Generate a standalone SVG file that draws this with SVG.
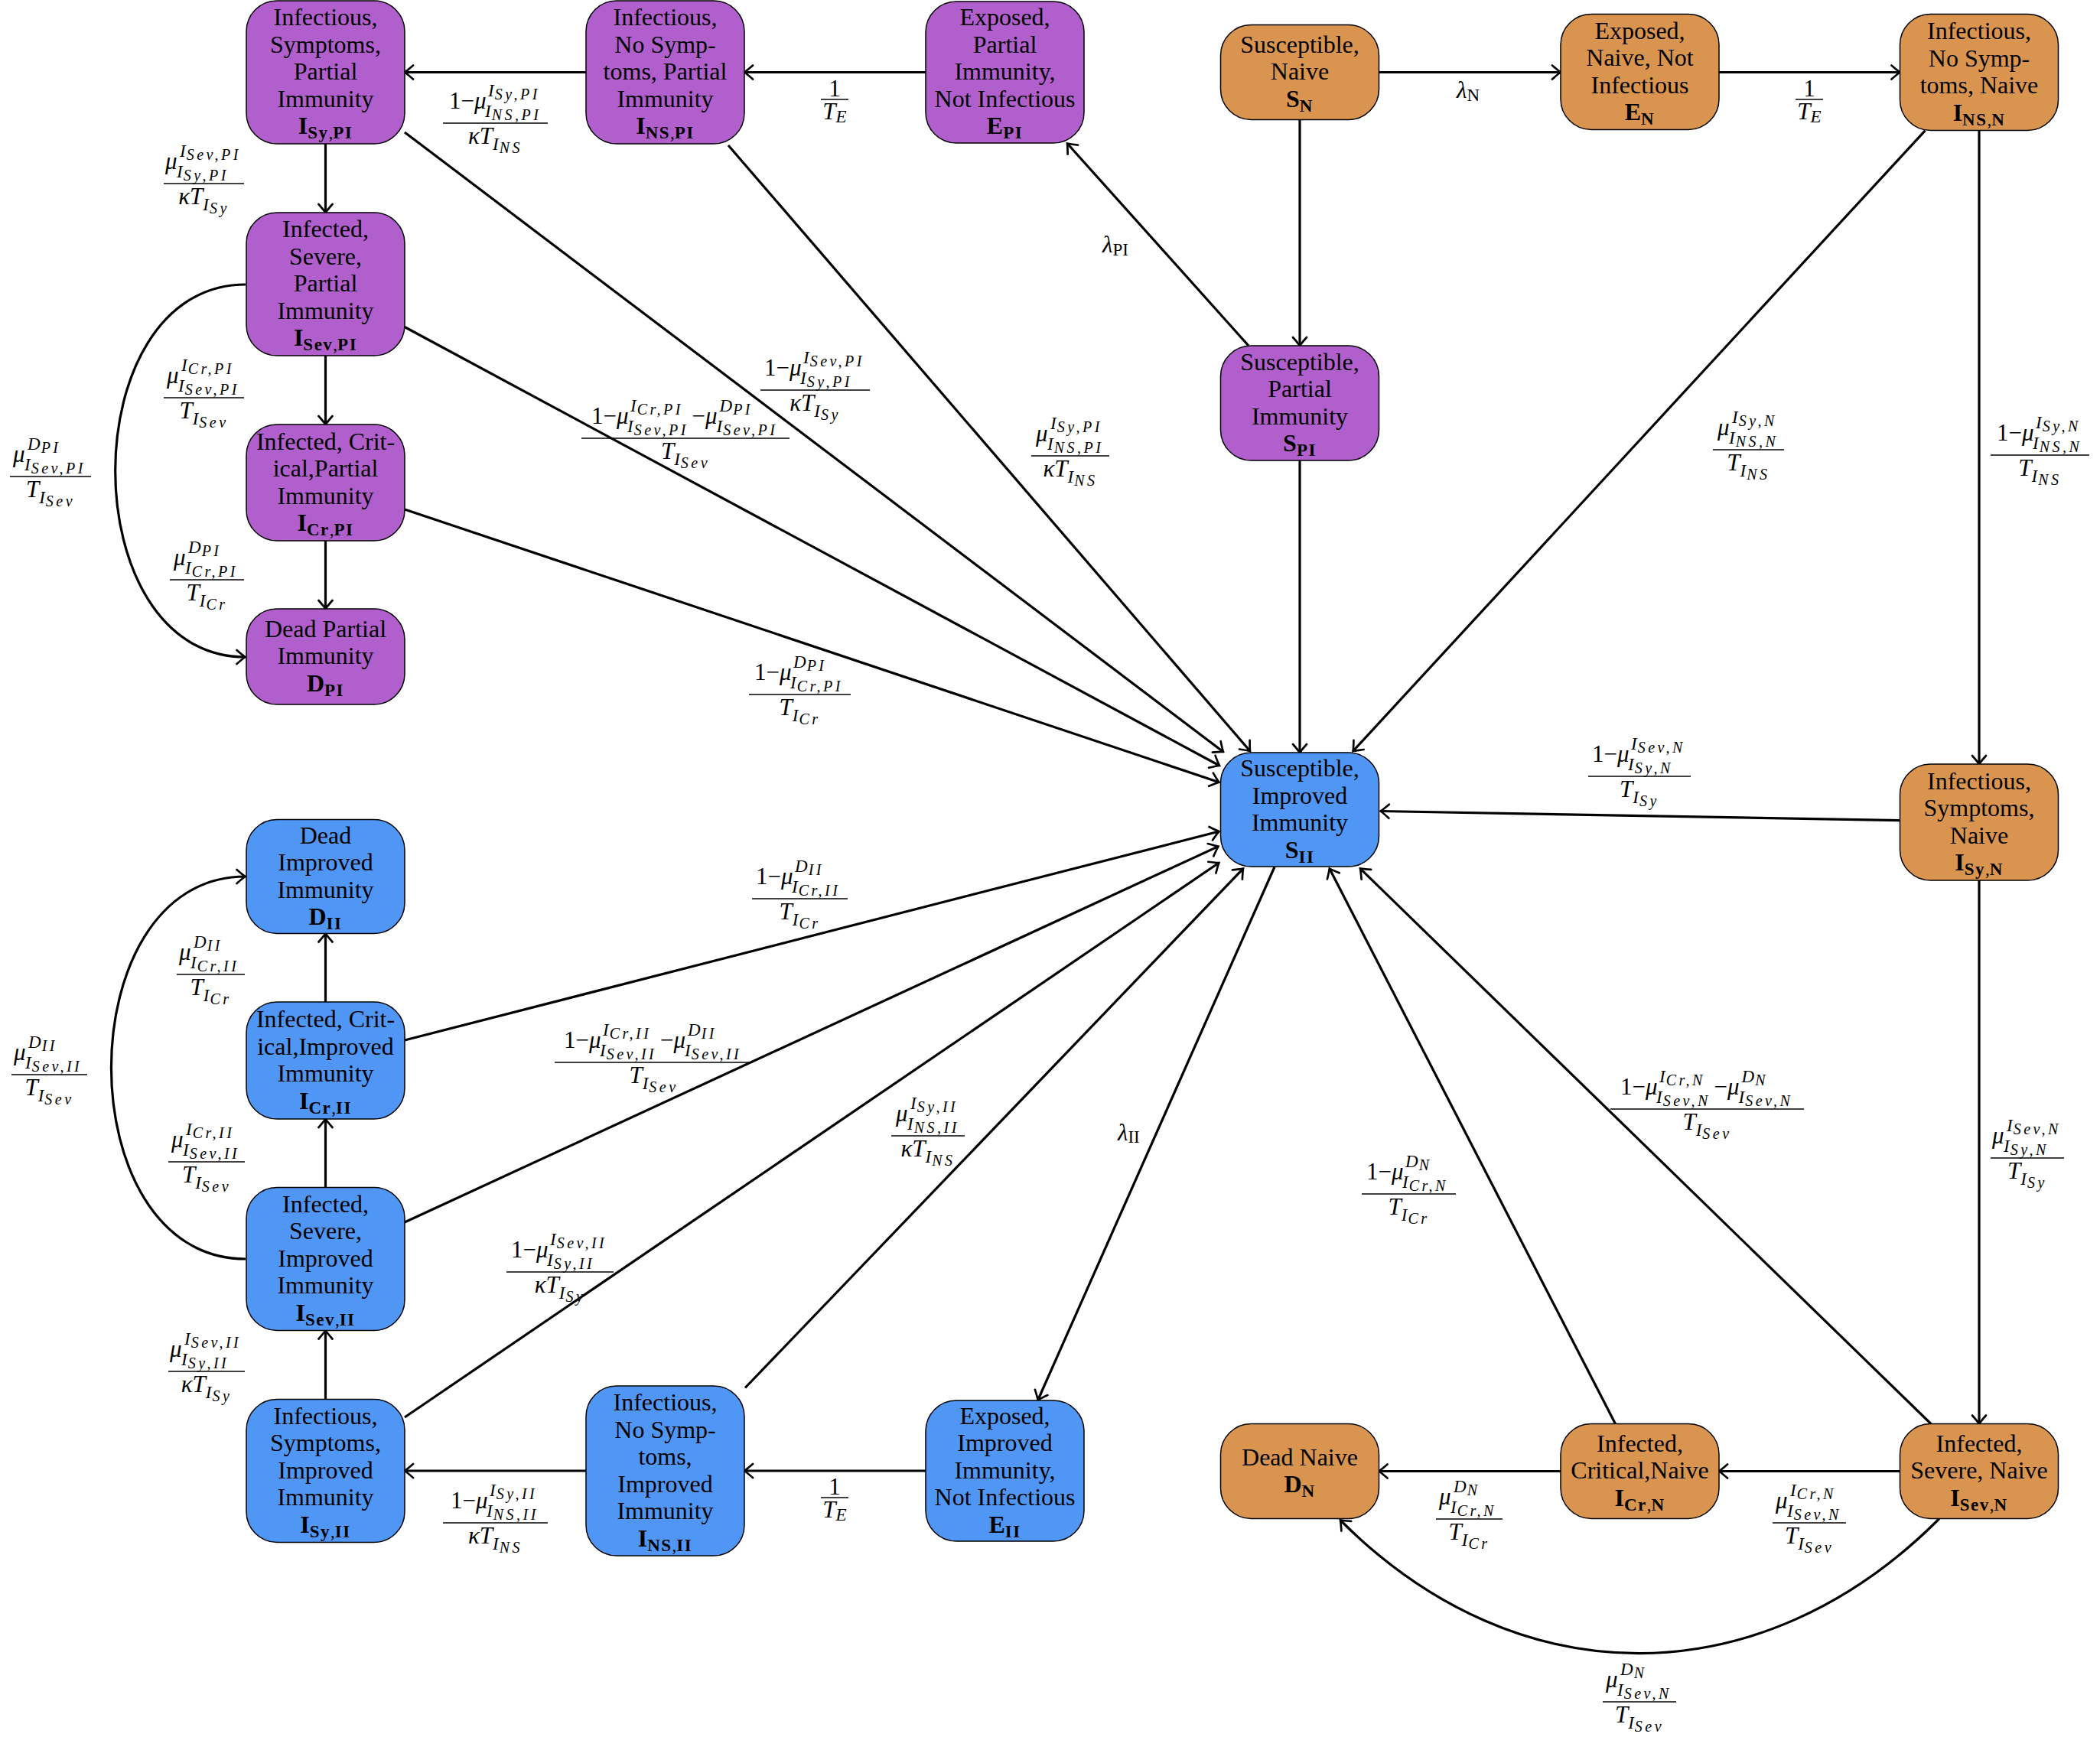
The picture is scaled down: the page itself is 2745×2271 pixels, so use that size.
<svg xmlns="http://www.w3.org/2000/svg" width="2745" height="2271" viewBox="0 0 2745 2271">
<defs>
<style>
.nd{stroke:#000;stroke-width:1.5}
.pu{fill:#B05FCC}
.or{fill:#D9944F}
.bl{fill:#5096F4}
.nt{font-family:"Liberation Serif",serif;font-size:32px;text-anchor:middle;fill:#000}
.b{font-weight:bold}
.bs{font-weight:bold;font-size:23px;letter-spacing:1.5px}
.cm{font-weight:normal;font-size:23px}
.e{fill:none;stroke:#000;stroke-width:3.2}
.fl{stroke:#000;stroke-width:1.5}
.mi{font-family:"Liberation Serif",serif;font-style:italic;font-size:31px}
.mr{font-family:"Liberation Serif",serif;font-size:31px}
.s{font-family:"Liberation Serif",serif;font-style:italic;font-size:23px}
.ss{font-style:italic;font-size:20px;letter-spacing:3.5px}
.sr{font-style:normal;font-size:23px}
.c{text-anchor:middle}
</style>
<marker id="ah" viewBox="-14 -12 16 24" markerWidth="16" markerHeight="24" refX="0" refY="0" orient="auto" markerUnits="userSpaceOnUse">
<path d="M-11,-9 Q-3,-2 0,0 Q-3,2 -11,9" fill="none" stroke="#000" stroke-width="2.7" stroke-linecap="round"/>
</marker>
</defs>
<rect width="2745" height="2271" fill="#fff"/>

<g id="connectors" class="e" marker-end="url(#ah)">
<path d="M766 94.5 L529 94.5"/>
<path d="M1210 94.5 L973 94.5"/>
<path d="M1802.5 94.5 L2040 94.5"/>
<path d="M2247 94.5 L2483.5 94.5"/>
<path d="M425.5 188 L425.5 278"/>
<path d="M425.5 465 L425.5 555"/>
<path d="M425.5 707 L425.5 796"/>
<path d="M1699 156.5 L1699 452"/>
<path d="M1699 602 L1699 984"/>
<path d="M2587 170.5 L2587 999"/>
<path d="M2587 1151 L2587 1861.5"/>
<path d="M425.5 1310 L425.5 1220.5"/>
<path d="M425.5 1552.5 L425.5 1463"/>
<path d="M425.5 1829.5 L425.5 1739.5"/>
<path d="M766 1923 L529 1923"/>
<path d="M1210 1923 L973 1923"/>
<path d="M2040 1923.5 L1802.5 1923.5"/>
<path d="M2483.5 1923.5 L2247 1923.5"/>
<path d="M529 173 L1599 983"/>
<path d="M952 190 L1634 982"/>
<path d="M529 427.5 L1594 1001"/>
<path d="M529 666 L1593.4 1022.7"/>
<path d="M2516.5 170.6 L1768.6 982"/>
<path d="M2483.5 1072.6 L1804.6 1060.5"/>
<path d="M529 1360 L1593.4 1087"/>
<path d="M529 1598 L1592.5 1106.6"/>
<path d="M529 1853 L1593.4 1128"/>
<path d="M974 1814.5 L1625 1135.6"/>
<path d="M2111.5 1861.5 L1737.8 1135.6"/>
<path d="M2524 1861.5 L1778 1135.6"/>
<path d="M1666 1133.5 L1356.7 1830.5"/>
<path d="M1632 452 L1395 187.5"/>
<path d="M321 372 C94 372 94 859 320.5 859"/>
<path d="M321 1646 C87 1646 87 1146 320.5 1146"/>
<path d="M2535 1985.5 C2302 2219 1985 2221 1752 1987.5"/>
</g>

<g id="nodes">
<g id="I_Sy_PI"><rect class="nd pu" x="322" y="1" width="207" height="187" rx="40"/>
<text class="nt"><tspan x="425.5" y="33.25">Infectious,</tspan><tspan x="425.5" y="68.75">Symptoms,</tspan><tspan x="425.5" y="104.25">Partial</tspan><tspan x="425.5" y="139.75">Immunity</tspan><tspan x="425.5" y="175.25" class="b">I<tspan class="bs" dy="6">Sy</tspan><tspan class="cm">,</tspan><tspan class="bs">PI</tspan></tspan></text></g>
<g id="I_NS_PI"><rect class="nd pu" x="766" y="1" width="207" height="187" rx="40"/>
<text class="nt"><tspan x="869.5" y="33.25">Infectious,</tspan><tspan x="869.5" y="68.75">No Symp-</tspan><tspan x="869.5" y="104.25">toms, Partial</tspan><tspan x="869.5" y="139.75">Immunity</tspan><tspan x="869.5" y="175.25" class="b">I<tspan class="bs" dy="6">NS</tspan><tspan class="cm">,</tspan><tspan class="bs">PI</tspan></tspan></text></g>
<g id="E_PI"><rect class="nd pu" x="1210" y="2" width="207" height="185" rx="40"/>
<text class="nt"><tspan x="1313.5" y="33.25">Exposed,</tspan><tspan x="1313.5" y="68.75">Partial</tspan><tspan x="1313.5" y="104.25">Immunity,</tspan><tspan x="1313.5" y="139.75">Not Infectious</tspan><tspan x="1313.5" y="175.25" class="b">E<tspan class="bs" dy="6">PI</tspan></tspan></text></g>
<g id="S_N"><rect class="nd or" x="1595.5" y="32.5" width="207" height="124" rx="40"/>
<text class="nt"><tspan x="1699" y="68.75">Susceptible,</tspan><tspan x="1699" y="104.25">Naive</tspan><tspan x="1699" y="139.75" class="b">S<tspan class="bs" dy="6">N</tspan></tspan></text></g>
<g id="E_N"><rect class="nd or" x="2040" y="18.5" width="207" height="151" rx="40"/>
<text class="nt"><tspan x="2143.5" y="50.5">Exposed,</tspan><tspan x="2143.5" y="86">Naive, Not</tspan><tspan x="2143.5" y="121.5">Infectious</tspan><tspan x="2143.5" y="157" class="b">E<tspan class="bs" dy="6">N</tspan></tspan></text></g>
<g id="I_NS_N"><rect class="nd or" x="2483.5" y="18.5" width="207" height="152" rx="40"/>
<text class="nt"><tspan x="2587" y="51">Infectious,</tspan><tspan x="2587" y="86.5">No Symp-</tspan><tspan x="2587" y="122">toms, Naive</tspan><tspan x="2587" y="157.5" class="b">I<tspan class="bs" dy="6">NS</tspan><tspan class="cm">,</tspan><tspan class="bs">N</tspan></tspan></text></g>
<g id="I_Sev_PI"><rect class="nd pu" x="322" y="278" width="207" height="187" rx="40"/>
<text class="nt"><tspan x="425.5" y="310.25">Infected,</tspan><tspan x="425.5" y="345.75">Severe,</tspan><tspan x="425.5" y="381.25">Partial</tspan><tspan x="425.5" y="416.75">Immunity</tspan><tspan x="425.5" y="452.25" class="b">I<tspan class="bs" dy="6">Sev</tspan><tspan class="cm">,</tspan><tspan class="bs">PI</tspan></tspan></text></g>
<g id="S_PI"><rect class="nd pu" x="1595.5" y="452" width="207" height="150" rx="40"/>
<text class="nt"><tspan x="1699" y="483.5">Susceptible,</tspan><tspan x="1699" y="519">Partial</tspan><tspan x="1699" y="554.5">Immunity</tspan><tspan x="1699" y="590" class="b">S<tspan class="bs" dy="6">PI</tspan></tspan></text></g>
<g id="I_Cr_PI"><rect class="nd pu" x="322" y="555" width="207" height="152" rx="40"/>
<text class="nt"><tspan x="425.5" y="587.5">Infected, Crit-</tspan><tspan x="425.5" y="623">ical,Partial</tspan><tspan x="425.5" y="658.5">Immunity</tspan><tspan x="425.5" y="694" class="b">I<tspan class="bs" dy="6">Cr</tspan><tspan class="cm">,</tspan><tspan class="bs">PI</tspan></tspan></text></g>
<g id="D_PI"><rect class="nd pu" x="322" y="796" width="207" height="125" rx="40"/>
<text class="nt"><tspan x="425.5" y="832.75">Dead Partial</tspan><tspan x="425.5" y="868.25">Immunity</tspan><tspan x="425.5" y="903.75" class="b">D<tspan class="bs" dy="6">PI</tspan></tspan></text></g>
<g id="S_II"><rect class="nd bl" x="1595.5" y="984" width="207" height="149" rx="40"/>
<text class="nt"><tspan x="1699" y="1015">Susceptible,</tspan><tspan x="1699" y="1050.5">Improved</tspan><tspan x="1699" y="1086">Immunity</tspan><tspan x="1699" y="1121.5" class="b">S<tspan class="bs" dy="6">II</tspan></tspan></text></g>
<g id="I_Sy_N"><rect class="nd or" x="2483.5" y="999" width="207" height="152" rx="40"/>
<text class="nt"><tspan x="2587" y="1031.5">Infectious,</tspan><tspan x="2587" y="1067">Symptoms,</tspan><tspan x="2587" y="1102.5">Naive</tspan><tspan x="2587" y="1138" class="b">I<tspan class="bs" dy="6">Sy</tspan><tspan class="cm">,</tspan><tspan class="bs">N</tspan></tspan></text></g>
<g id="D_II"><rect class="nd bl" x="322" y="1071.5" width="207" height="149" rx="40"/>
<text class="nt"><tspan x="425.5" y="1102.5">Dead</tspan><tspan x="425.5" y="1138">Improved</tspan><tspan x="425.5" y="1173.5">Immunity</tspan><tspan x="425.5" y="1209" class="b">D<tspan class="bs" dy="6">II</tspan></tspan></text></g>
<g id="I_Cr_II"><rect class="nd bl" x="322" y="1310" width="207" height="153" rx="40"/>
<text class="nt"><tspan x="425.5" y="1343">Infected, Crit-</tspan><tspan x="425.5" y="1378.5">ical,Improved</tspan><tspan x="425.5" y="1414">Immunity</tspan><tspan x="425.5" y="1449.5" class="b">I<tspan class="bs" dy="6">Cr</tspan><tspan class="cm">,</tspan><tspan class="bs">II</tspan></tspan></text></g>
<g id="I_Sev_II"><rect class="nd bl" x="322" y="1552.5" width="207" height="187" rx="40"/>
<text class="nt"><tspan x="425.5" y="1584.75">Infected,</tspan><tspan x="425.5" y="1620.25">Severe,</tspan><tspan x="425.5" y="1655.75">Improved</tspan><tspan x="425.5" y="1691.25">Immunity</tspan><tspan x="425.5" y="1726.75" class="b">I<tspan class="bs" dy="6">Sev</tspan><tspan class="cm">,</tspan><tspan class="bs">II</tspan></tspan></text></g>
<g id="I_Sy_II"><rect class="nd bl" x="322" y="1829.5" width="207" height="187" rx="40"/>
<text class="nt"><tspan x="425.5" y="1861.75">Infectious,</tspan><tspan x="425.5" y="1897.25">Symptoms,</tspan><tspan x="425.5" y="1932.75">Improved</tspan><tspan x="425.5" y="1968.25">Immunity</tspan><tspan x="425.5" y="2003.75" class="b">I<tspan class="bs" dy="6">Sy</tspan><tspan class="cm">,</tspan><tspan class="bs">II</tspan></tspan></text></g>
<g id="I_NS_II"><rect class="nd bl" x="766" y="1812" width="207" height="222" rx="40"/>
<text class="nt"><tspan x="869.5" y="1844">Infectious,</tspan><tspan x="869.5" y="1879.5">No Symp-</tspan><tspan x="869.5" y="1915">toms,</tspan><tspan x="869.5" y="1950.5">Improved</tspan><tspan x="869.5" y="1986">Immunity</tspan><tspan x="869.5" y="2021.5" class="b">I<tspan class="bs" dy="6">NS</tspan><tspan class="cm">,</tspan><tspan class="bs">II</tspan></tspan></text></g>
<g id="E_II"><rect class="nd bl" x="1210" y="1831" width="207" height="184" rx="40"/>
<text class="nt"><tspan x="1313.5" y="1861.75">Exposed,</tspan><tspan x="1313.5" y="1897.25">Improved</tspan><tspan x="1313.5" y="1932.75">Immunity,</tspan><tspan x="1313.5" y="1968.25">Not Infectious</tspan><tspan x="1313.5" y="2003.75" class="b">E<tspan class="bs" dy="6">II</tspan></tspan></text></g>
<g id="D_N"><rect class="nd or" x="1595.5" y="1861.5" width="207" height="124" rx="40"/>
<text class="nt"><tspan x="1699" y="1915.5">Dead Naive</tspan><tspan x="1699" y="1951" class="b">D<tspan class="bs" dy="6">N</tspan></tspan></text></g>
<g id="I_Cr_N"><rect class="nd or" x="2040" y="1861.5" width="207" height="124" rx="40"/>
<text class="nt"><tspan x="2143.5" y="1897.75">Infected,</tspan><tspan x="2143.5" y="1933.25">Critical,Naive</tspan><tspan x="2143.5" y="1968.75" class="b">I<tspan class="bs" dy="6">Cr</tspan><tspan class="cm">,</tspan><tspan class="bs">N</tspan></tspan></text></g>
<g id="I_Sev_N"><rect class="nd or" x="2483.5" y="1861.5" width="207" height="124" rx="40"/>
<text class="nt"><tspan x="2587" y="1897.75">Infected,</tspan><tspan x="2587" y="1933.25">Severe, Naive</tspan><tspan x="2587" y="1968.75" class="b">I<tspan class="bs" dy="6">Sev</tspan><tspan class="cm">,</tspan><tspan class="bs">N</tspan></tspan></text></g>
</g>

<g id="labels">
<!-- L1 -->
<text class="mr" x="587" y="142">1−<tspan class="mi">μ</tspan></text>
<text class="s" x="638" y="126">I<tspan class="ss" dx="1" dy="4">Sy,PI</tspan></text>
<text class="s" x="634" y="153">I<tspan class="ss" dx="1" dy="4">NS,PI</tspan></text>
<line class="fl" x1="579" y1="161" x2="716" y2="161"/>
<text class="mi c" x="647.5" y="188">κT<tspan class="s" dy="8">I</tspan><tspan class="ss" dx="1" dy="4">NS</tspan></text>
<!-- L2 -->
<text class="mr c" x="1091" y="126">1</text>
<line class="fl" x1="1073" y1="130" x2="1109" y2="130"/>
<text class="mi c" x="1091" y="156">T<tspan class="s" dy="4">E</tspan></text>
<!-- L3 -->
<text class="mi" x="1904" y="128">λ<tspan class="sr" dy="4">N</tspan></text>
<!-- L4 -->
<text class="mr c" x="2365" y="126">1</text>
<line class="fl" x1="2347" y1="130" x2="2383" y2="130"/>
<text class="mi c" x="2365" y="156">T<tspan class="s" dy="4">E</tspan></text>
<!-- L5 -->
<text class="mi" x="216" y="221">μ</text>
<text class="s" x="235" y="205">I<tspan class="ss" dx="1" dy="4">Sev,PI</tspan></text>
<text class="s" x="231" y="232">I<tspan class="ss" dx="1" dy="4">Sy,PI</tspan></text>
<line class="fl" x1="214" y1="240" x2="319" y2="240"/>
<text class="mi c" x="266.5" y="267">κT<tspan class="s" dy="8">I</tspan><tspan class="ss" dx="1" dy="4">Sy</tspan></text>
<!-- L6 -->
<text class="mi" x="218" y="501">μ</text>
<text class="s" x="237" y="485">I<tspan class="ss" dx="1" dy="4">Cr,PI</tspan></text>
<text class="s" x="233" y="512">I<tspan class="ss" dx="1" dy="4">Sev,PI</tspan></text>
<line class="fl" x1="214" y1="520" x2="319" y2="520"/>
<text class="mi c" x="266.5" y="547">T<tspan class="s" dy="8">I</tspan><tspan class="ss" dx="1" dy="4">Sev</tspan></text>
<!-- L7 -->
<text class="mi" x="17" y="604">μ</text>
<text class="s" x="36" y="588">D<tspan class="ss" dx="1" dy="4">PI</tspan></text>
<text class="s" x="32" y="615">I<tspan class="ss" dx="1" dy="4">Sev,PI</tspan></text>
<line class="fl" x1="13" y1="623" x2="119" y2="623"/>
<text class="mi c" x="66" y="650">T<tspan class="s" dy="8">I</tspan><tspan class="ss" dx="1" dy="4">Sev</tspan></text>
<!-- L8 -->
<text class="mi" x="227" y="739">μ</text>
<text class="s" x="246" y="723">D<tspan class="ss" dx="1" dy="4">PI</tspan></text>
<text class="s" x="242" y="750">I<tspan class="ss" dx="1" dy="4">Cr,PI</tspan></text>
<line class="fl" x1="222" y1="758" x2="319" y2="758"/>
<text class="mi c" x="270.5" y="785">T<tspan class="s" dy="8">I</tspan><tspan class="ss" dx="1" dy="4">Cr</tspan></text>
<!-- L9 -->
<text class="mi" x="1441" y="330">λ<tspan class="sr" dy="4">PI</tspan></text>
<!-- L10 -->
<text class="mr" x="999" y="491">1−<tspan class="mi">μ</tspan></text>
<text class="s" x="1050" y="475">I<tspan class="ss" dx="1" dy="4">Sev,PI</tspan></text>
<text class="s" x="1046" y="502">I<tspan class="ss" dx="1" dy="4">Sy,PI</tspan></text>
<line class="fl" x1="994" y1="510" x2="1137" y2="510"/>
<text class="mi c" x="1065.5" y="537">κT<tspan class="s" dy="8">I</tspan><tspan class="ss" dx="1" dy="4">Sy</tspan></text>
<!-- L11 -->
<text class="mr" x="773" y="554">1−<tspan class="mi">μ</tspan></text>
<text class="s" x="824" y="538">I<tspan class="ss" dx="1" dy="4">Cr,PI</tspan></text>
<text class="s" x="820" y="565">I<tspan class="ss" dx="1" dy="4">Sev,PI</tspan></text>
<text class="mr" x="904.5" y="554">−<tspan class="mi">μ</tspan></text>
<text class="s" x="940.5" y="538">D<tspan class="ss" dx="1" dy="4">PI</tspan></text>
<text class="s" x="936.5" y="565">I<tspan class="ss" dx="1" dy="4">Sev,PI</tspan></text>
<line class="fl" x1="760" y1="573" x2="1032" y2="573"/>
<text class="mi c" x="896" y="600">T<tspan class="s" dy="8">I</tspan><tspan class="ss" dx="1" dy="4">Sev</tspan></text>
<!-- L12 -->
<text class="mi" x="1354" y="577">μ</text>
<text class="s" x="1373" y="561">I<tspan class="ss" dx="1" dy="4">Sy,PI</tspan></text>
<text class="s" x="1369" y="588">I<tspan class="ss" dx="1" dy="4">NS,PI</tspan></text>
<line class="fl" x1="1348" y1="596" x2="1450" y2="596"/>
<text class="mi c" x="1399" y="623">κT<tspan class="s" dy="8">I</tspan><tspan class="ss" dx="1" dy="4">NS</tspan></text>
<!-- L13 -->
<text class="mi" x="2245" y="569">μ</text>
<text class="s" x="2264" y="553">I<tspan class="ss" dx="1" dy="4">Sy,N</tspan></text>
<text class="s" x="2260" y="580">I<tspan class="ss" dx="1" dy="4">NS,N</tspan></text>
<line class="fl" x1="2239" y1="588" x2="2332" y2="588"/>
<text class="mi c" x="2285.5" y="615">T<tspan class="s" dy="8">I</tspan><tspan class="ss" dx="1" dy="4">NS</tspan></text>
<!-- L14 -->
<text class="mr" x="2610" y="576">1−<tspan class="mi">μ</tspan></text>
<text class="s" x="2661" y="560">I<tspan class="ss" dx="1" dy="4">Sy,N</tspan></text>
<text class="s" x="2657" y="587">I<tspan class="ss" dx="1" dy="4">NS,N</tspan></text>
<line class="fl" x1="2602" y1="595" x2="2731" y2="595"/>
<text class="mi c" x="2666.5" y="622">T<tspan class="s" dy="8">I</tspan><tspan class="ss" dx="1" dy="4">NS</tspan></text>
<!-- L15 -->
<text class="mr" x="986" y="889">1−<tspan class="mi">μ</tspan></text>
<text class="s" x="1037" y="873">D<tspan class="ss" dx="1" dy="4">PI</tspan></text>
<text class="s" x="1033" y="900">I<tspan class="ss" dx="1" dy="4">Cr,PI</tspan></text>
<line class="fl" x1="979" y1="908" x2="1112" y2="908"/>
<text class="mi c" x="1045.5" y="935">T<tspan class="s" dy="8">I</tspan><tspan class="ss" dx="1" dy="4">Cr</tspan></text>
<!-- L16 -->
<text class="mr" x="2081" y="996">1−<tspan class="mi">μ</tspan></text>
<text class="s" x="2132" y="980">I<tspan class="ss" dx="1" dy="4">Sev,N</tspan></text>
<text class="s" x="2128" y="1007">I<tspan class="ss" dx="1" dy="4">Sy,N</tspan></text>
<line class="fl" x1="2076" y1="1015" x2="2210" y2="1015"/>
<text class="mi c" x="2143" y="1042">T<tspan class="s" dy="8">I</tspan><tspan class="ss" dx="1" dy="4">Sy</tspan></text>
<!-- L17 -->
<text class="mi" x="234" y="1255">μ</text>
<text class="s" x="253" y="1239">D<tspan class="ss" dx="1" dy="4">II</tspan></text>
<text class="s" x="249" y="1266">I<tspan class="ss" dx="1" dy="4">Cr,II</tspan></text>
<line class="fl" x1="231" y1="1274" x2="320" y2="1274"/>
<text class="mi c" x="275.5" y="1301">T<tspan class="s" dy="8">I</tspan><tspan class="ss" dx="1" dy="4">Cr</tspan></text>
<!-- L18 -->
<text class="mr" x="988" y="1156">1−<tspan class="mi">μ</tspan></text>
<text class="s" x="1039" y="1140">D<tspan class="ss" dx="1" dy="4">II</tspan></text>
<text class="s" x="1035" y="1167">I<tspan class="ss" dx="1" dy="4">Cr,II</tspan></text>
<line class="fl" x1="983" y1="1175" x2="1108" y2="1175"/>
<text class="mi c" x="1045.5" y="1202">T<tspan class="s" dy="8">I</tspan><tspan class="ss" dx="1" dy="4">Cr</tspan></text>
<!-- L19 -->
<text class="mi" x="18" y="1386">μ</text>
<text class="s" x="37" y="1370">D<tspan class="ss" dx="1" dy="4">II</tspan></text>
<text class="s" x="33" y="1397">I<tspan class="ss" dx="1" dy="4">Sev,II</tspan></text>
<line class="fl" x1="15" y1="1405" x2="114" y2="1405"/>
<text class="mi c" x="64.5" y="1432">T<tspan class="s" dy="8">I</tspan><tspan class="ss" dx="1" dy="4">Sev</tspan></text>
<!-- L20 -->
<text class="mr" x="737" y="1370">1−<tspan class="mi">μ</tspan></text>
<text class="s" x="788" y="1354">I<tspan class="ss" dx="1" dy="4">Cr,II</tspan></text>
<text class="s" x="784" y="1381">I<tspan class="ss" dx="1" dy="4">Sev,II</tspan></text>
<text class="mr" x="863" y="1370">−<tspan class="mi">μ</tspan></text>
<text class="s" x="899" y="1354">D<tspan class="ss" dx="1" dy="4">II</tspan></text>
<text class="s" x="895" y="1381">I<tspan class="ss" dx="1" dy="4">Sev,II</tspan></text>
<line class="fl" x1="725" y1="1389" x2="984" y2="1389"/>
<text class="mi c" x="854.5" y="1416">T<tspan class="s" dy="8">I</tspan><tspan class="ss" dx="1" dy="4">Sev</tspan></text>
<!-- L21 -->
<text class="mi" x="1171" y="1466">μ</text>
<text class="s" x="1190" y="1450">I<tspan class="ss" dx="1" dy="4">Sy,II</tspan></text>
<text class="s" x="1186" y="1477">I<tspan class="ss" dx="1" dy="4">NS,II</tspan></text>
<line class="fl" x1="1165" y1="1485" x2="1261" y2="1485"/>
<text class="mi c" x="1213" y="1512">κT<tspan class="s" dy="8">I</tspan><tspan class="ss" dx="1" dy="4">NS</tspan></text>
<!-- L22 -->
<text class="mi" x="1461" y="1491">λ<tspan class="sr" dy="3">II</tspan></text>
<!-- L23 -->
<text class="mr" x="2118" y="1431">1−<tspan class="mi">μ</tspan></text>
<text class="s" x="2169" y="1415">I<tspan class="ss" dx="1" dy="4">Cr,N</tspan></text>
<text class="s" x="2165" y="1442">I<tspan class="ss" dx="1" dy="4">Sev,N</tspan></text>
<text class="mr" x="2240.5" y="1431">−<tspan class="mi">μ</tspan></text>
<text class="s" x="2276.5" y="1415">D<tspan class="ss" dx="1" dy="4">N</tspan></text>
<text class="s" x="2272.5" y="1442">I<tspan class="ss" dx="1" dy="4">Sev,N</tspan></text>
<line class="fl" x1="2105" y1="1450" x2="2358" y2="1450"/>
<text class="mi c" x="2231.5" y="1477">T<tspan class="s" dy="8">I</tspan><tspan class="ss" dx="1" dy="4">Sev</tspan></text>
<!-- L24 -->
<text class="mi" x="2604" y="1495">μ</text>
<text class="s" x="2623" y="1479">I<tspan class="ss" dx="1" dy="4">Sev,N</tspan></text>
<text class="s" x="2619" y="1506">I<tspan class="ss" dx="1" dy="4">Sy,N</tspan></text>
<line class="fl" x1="2602" y1="1514" x2="2698" y2="1514"/>
<text class="mi c" x="2650" y="1541">T<tspan class="s" dy="8">I</tspan><tspan class="ss" dx="1" dy="4">Sy</tspan></text>
<!-- L25 -->
<text class="mi" x="224" y="1500">μ</text>
<text class="s" x="243" y="1484">I<tspan class="ss" dx="1" dy="4">Cr,II</tspan></text>
<text class="s" x="239" y="1511">I<tspan class="ss" dx="1" dy="4">Sev,II</tspan></text>
<line class="fl" x1="220" y1="1519" x2="320" y2="1519"/>
<text class="mi c" x="270" y="1546">T<tspan class="s" dy="8">I</tspan><tspan class="ss" dx="1" dy="4">Sev</tspan></text>
<!-- L26 -->
<text class="mr" x="1786" y="1542">1−<tspan class="mi">μ</tspan></text>
<text class="s" x="1837" y="1526">D<tspan class="ss" dx="1" dy="4">N</tspan></text>
<text class="s" x="1833" y="1553">I<tspan class="ss" dx="1" dy="4">Cr,N</tspan></text>
<line class="fl" x1="1780" y1="1561" x2="1903" y2="1561"/>
<text class="mi c" x="1841.5" y="1588">T<tspan class="s" dy="8">I</tspan><tspan class="ss" dx="1" dy="4">Cr</tspan></text>
<!-- L27 -->
<text class="mi" x="222" y="1774">μ</text>
<text class="s" x="241" y="1758">I<tspan class="ss" dx="1" dy="4">Sev,II</tspan></text>
<text class="s" x="237" y="1785">I<tspan class="ss" dx="1" dy="4">Sy,II</tspan></text>
<line class="fl" x1="220" y1="1793" x2="320" y2="1793"/>
<text class="mi c" x="270" y="1820">κT<tspan class="s" dy="8">I</tspan><tspan class="ss" dx="1" dy="4">Sy</tspan></text>
<!-- L28 -->
<text class="mr" x="668" y="1644">1−<tspan class="mi">μ</tspan></text>
<text class="s" x="719" y="1628">I<tspan class="ss" dx="1" dy="4">Sev,II</tspan></text>
<text class="s" x="715" y="1655">I<tspan class="ss" dx="1" dy="4">Sy,II</tspan></text>
<line class="fl" x1="662" y1="1663" x2="802" y2="1663"/>
<text class="mi c" x="732" y="1690">κT<tspan class="s" dy="8">I</tspan><tspan class="ss" dx="1" dy="4">Sy</tspan></text>
<!-- L29 -->
<text class="mr" x="589" y="1972">1−<tspan class="mi">μ</tspan></text>
<text class="s" x="640" y="1956">I<tspan class="ss" dx="1" dy="4">Sy,II</tspan></text>
<text class="s" x="636" y="1983">I<tspan class="ss" dx="1" dy="4">NS,II</tspan></text>
<line class="fl" x1="579" y1="1991" x2="716" y2="1991"/>
<text class="mi c" x="647.5" y="2018">κT<tspan class="s" dy="8">I</tspan><tspan class="ss" dx="1" dy="4">NS</tspan></text>
<!-- L30 -->
<text class="mr c" x="1091" y="1954">1</text>
<line class="fl" x1="1073" y1="1958" x2="1109" y2="1958"/>
<text class="mi c" x="1091" y="1984">T<tspan class="s" dy="4">E</tspan></text>
<!-- L31 -->
<text class="mi" x="1881" y="1967">μ</text>
<text class="s" x="1900" y="1951">D<tspan class="ss" dx="1" dy="4">N</tspan></text>
<text class="s" x="1896" y="1978">I<tspan class="ss" dx="1" dy="4">Cr,N</tspan></text>
<line class="fl" x1="1877" y1="1986" x2="1964" y2="1986"/>
<text class="mi c" x="1920.5" y="2013">T<tspan class="s" dy="8">I</tspan><tspan class="ss" dx="1" dy="4">Cr</tspan></text>
<!-- L32 -->
<text class="mi" x="2321" y="1972">μ</text>
<text class="s" x="2340" y="1956">I<tspan class="ss" dx="1" dy="4">Cr,N</tspan></text>
<text class="s" x="2336" y="1983">I<tspan class="ss" dx="1" dy="4">Sev,N</tspan></text>
<line class="fl" x1="2317" y1="1991" x2="2413" y2="1991"/>
<text class="mi c" x="2365" y="2018">T<tspan class="s" dy="8">I</tspan><tspan class="ss" dx="1" dy="4">Sev</tspan></text>
<!-- L33 -->
<text class="mi" x="2099" y="2206">μ</text>
<text class="s" x="2118" y="2190">D<tspan class="ss" dx="1" dy="4">N</tspan></text>
<text class="s" x="2114" y="2217">I<tspan class="ss" dx="1" dy="4">Sev,N</tspan></text>
<line class="fl" x1="2095" y1="2225" x2="2191" y2="2225"/>
<text class="mi c" x="2143" y="2252">T<tspan class="s" dy="8">I</tspan><tspan class="ss" dx="1" dy="4">Sev</tspan></text>
</g>
</svg>
